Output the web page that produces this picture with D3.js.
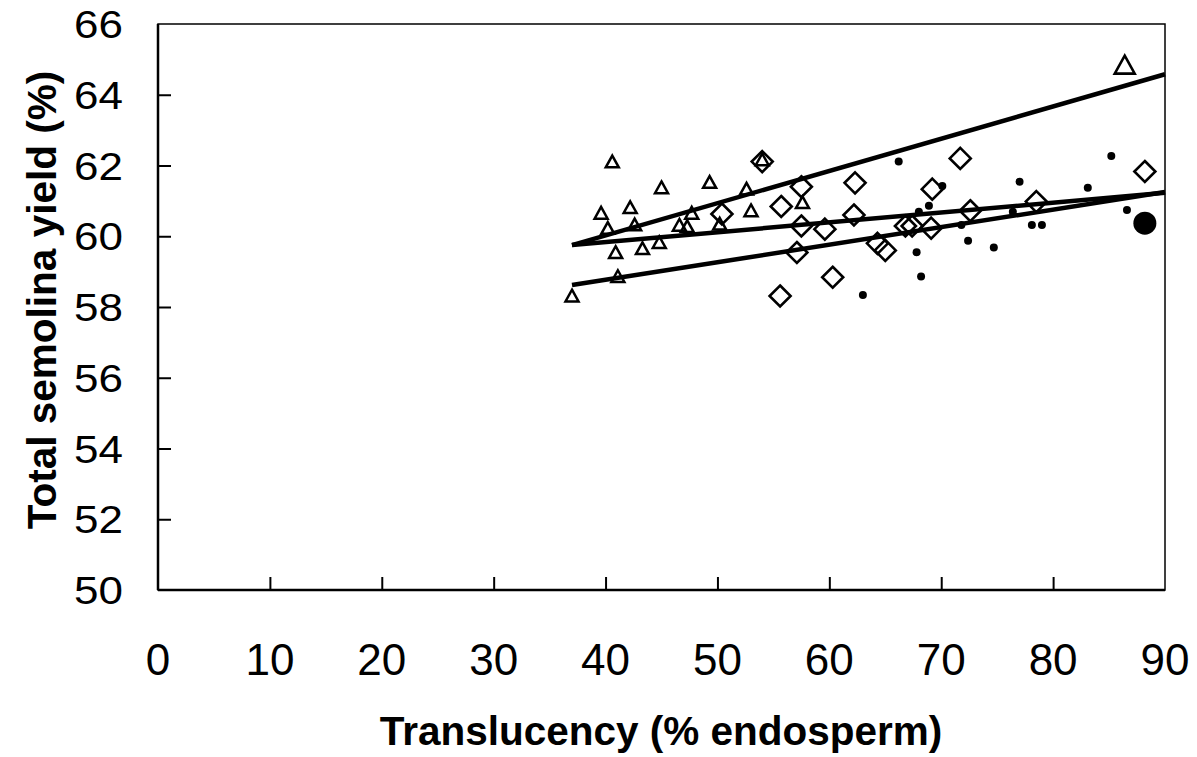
<!DOCTYPE html>
<html>
<head>
<meta charset="utf-8">
<script src="https://cdn.jsdelivr.net/npm/d3@7"></script>
<style>
  body { margin: 0; background: #fff; }
  text { font-family: "Liberation Sans", Arial, sans-serif; fill: #000; }
</style>
</head>
<body>
<svg id="chart" width="1197" height="757"></svg>
<script>
// open triangles
var triX = [40.6, 45.0, 49.3, 52.6, 39.6, 42.2, 40.2, 42.6, 47.7, 46.6, 47.3, 50.2, 40.9, 43.3, 44.8, 41.1, 37.0, 53.0, 57.6, 54.0];
var triY = [62.08, 61.35, 61.5, 61.31, 60.63, 60.79, 60.2, 60.3, 60.63, 60.29, 60.25, 60.32, 59.52, 59.63, 59.8, 58.84, 58.29, 60.7, 60.93, 62.14];
// open diamonds
var diaX = [54.0, 57.5, 62.3, 69.2, 55.7, 62.2, 57.5, 59.6, 66.8, 67.4, 69.1, 57.1, 64.3, 65.0, 60.3, 55.6, 50.4, 71.7, 72.6, 78.5, 88.2];
var diaY = [62.11, 61.4, 61.51, 61.33, 60.84, 60.6, 60.29, 60.2, 60.29, 60.29, 60.23, 59.54, 59.8, 59.6, 58.84, 58.31, 60.63, 62.2, 60.72, 60.98, 61.83];
// small filled dots
var dotX = [66.2, 68.9, 68.0, 67.8, 68.2, 63.0, 70.1, 77.0, 85.2, 83.1, 86.6, 71.8, 76.4, 78.1, 79.0, 72.4, 74.7];
var dotY = [62.11, 60.86, 60.69, 59.55, 58.86, 58.34, 61.42, 61.54, 62.27, 61.37, 60.74, 60.32, 60.69, 60.32, 60.32, 59.87, 59.68];
// large symbols
var bigTri = [86.4, 64.8];
var bigDot = [88.2, 60.37];
// regression lines: [x0, y0, x1, y1]
var fitLines = [
    [37, 59.75, 90, 64.58],
    [37, 59.75, 90, 61.23],
    [37, 58.62, 90, 61.25]
];
var xTicks = [0, 10, 20, 30, 40, 50, 60, 70, 80, 90];
var yTicks = [50, 52, 54, 56, 58, 60, 62, 64, 66];

var svg = d3.select('#chart');
var plotLeft = 158, plotRight = 1165, plotTop = 24, plotBottom = 590;

var x = d3.scaleLinear().domain([0, 90]).range([plotLeft, plotRight]);
var y = d3.scaleLinear().domain([50, 66]).range([plotBottom, plotTop]);

// frame
svg.append('rect')
    .attr('x', plotLeft).attr('y', plotTop)
    .attr('width', plotRight - plotLeft).attr('height', plotBottom - plotTop)
    .attr('fill', 'none')
    .attr('stroke', '#000')
    .attr('stroke-width', 1.5);

svg.append('line')
    .attr('x1', plotLeft).attr('x2', plotLeft).attr('y1', plotTop).attr('y2', plotBottom)
    .attr('stroke', '#000').attr('stroke-width', 2.5);
svg.append('line')
    .attr('x1', plotLeft).attr('x2', plotRight).attr('y1', plotBottom).attr('y2', plotBottom)
    .attr('stroke', '#000').attr('stroke-width', 2.5);

// inward ticks
var xAxis = d3.axisTop(x).tickValues(xTicks.slice(1, -1)).tickSize(13).tickFormat('');
svg.append('g')
    .attr('transform', `translate(0, ${plotBottom})`)
    .call(xAxis)
    .call(g => g.select('.domain').remove())
    .call(g => g.selectAll('line').attr('stroke-width', 2));

var yAxis = d3.axisRight(y).tickValues(yTicks.slice(1, -1)).tickSize(13).tickFormat('');
svg.append('g')
    .attr('transform', `translate(${plotLeft}, 0)`)
    .call(yAxis)
    .call(g => g.select('.domain').remove())
    .call(g => g.selectAll('line').attr('stroke-width', 2));

// tick labels
svg.selectAll('.xlab')
    .data(xTicks).enter().append('text')
    .attr('x', d => x(d))
    .attr('y', 675)
    .attr('text-anchor', 'middle')
    .style('font-size', '44px')
    .text(d => d);

// y labels are a little squat in the original
svg.selectAll('.ylab')
    .data(yTicks).enter().append('text')
    .attr('transform', d => `translate(123, ${y(d) + 14}) scale(1, 0.88)`)
    .attr('text-anchor', 'end')
    .style('font-size', '44px')
    .text(d => d);

// axis titles
svg.append('text')
    .attr('x', 661)
    .attr('y', 745)
    .attr('text-anchor', 'middle')
    .style('font-size', '40.5px')
    .style('font-weight', 'bold')
    .text('Translucency (% endosperm)');

svg.append('text')
    .attr('transform', 'translate(56, 300) rotate(-90)')
    .attr('text-anchor', 'middle')
    .style('font-size', '40.5px')
    .style('font-weight', 'bold')
    .text('Total semolina yield (%)');

// regression lines
svg.selectAll('.fit')
    .data(fitLines).enter().append('line')
    .attr('x1', d => x(d[0])).attr('y1', d => y(d[1]))
    .attr('x2', d => x(d[2])).attr('y2', d => y(d[3]))
    .attr('stroke', '#000')
    .attr('stroke-width', 4.5);

var triPath = (cx, cy, w) => {
    var h = w * 0.9;
    return `M${cx},${cy - h * 0.6}L${cx + w / 2},${cy + h * 0.4}L${cx - w / 2},${cy + h * 0.4}Z`;
};
var diaPath = (cx, cy, r) => `M${cx},${cy - r}L${cx + r},${cy}L${cx},${cy + r}L${cx - r},${cy}Z`;

// diamonds
svg.selectAll('.dia')
    .data(d3.range(diaX.length)).enter().append('path')
    .attr('d', i => diaPath(x(diaX[i]), y(diaY[i]), 10.5))
    .attr('fill', 'none')
    .attr('stroke', '#000')
    .attr('stroke-width', 2.6);

// triangles
svg.selectAll('.tri')
    .data(d3.range(triX.length)).enter().append('path')
    .attr('d', i => triPath(x(triX[i]), y(triY[i]), 13))
    .attr('fill', 'none')
    .attr('stroke', '#000')
    .attr('stroke-width', 2.5);

svg.append('path')
    .attr('d', triPath(x(bigTri[0]), y(bigTri[1]), 20))
    .attr('fill', 'none')
    .attr('stroke', '#000')
    .attr('stroke-width', 2.6);

// dots
svg.selectAll('.dot')
    .data(d3.range(dotX.length)).enter().append('circle')
    .attr('cx', i => x(dotX[i]))
    .attr('cy', i => y(dotY[i]))
    .attr('r', 4)
    .attr('fill', '#000');

svg.append('circle')
    .attr('cx', x(bigDot[0]))
    .attr('cy', y(bigDot[1]))
    .attr('r', 11.5)
    .attr('fill', '#000');
</script>
</body>
</html>
